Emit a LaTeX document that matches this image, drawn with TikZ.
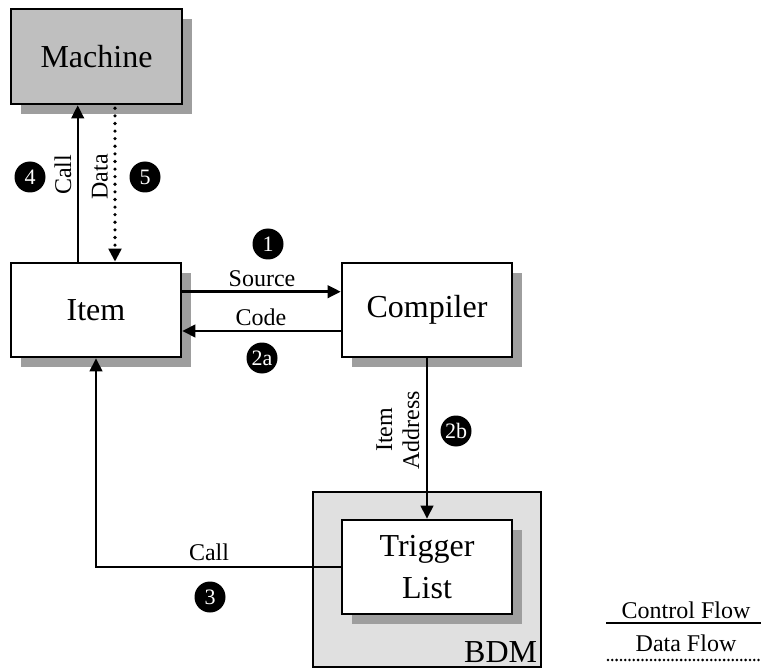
\documentclass[tikz,border=0pt]{standalone}
\usepackage{fontspec}
\setmainfont{Liberation Serif}
\usetikzlibrary{arrows.meta,shadows}
\begin{document}
\begin{tikzpicture}[x=1pt,y=-1pt,
  every node/.style={inner sep=0pt},
  box/.style={draw=black, line width=2.6pt, fill=white,
    minimum width=170pt, minimum height=94pt, align=center,
    font=\fontsize{32}{34}\selectfont,
    general shadow={fill=black!38, shadow xshift=10pt, shadow yshift=-10pt}},
  ctl/.style={line width=2.4pt, -{Triangle[length=13pt,width=12.5pt]}},
  dat/.style={line width=3.6pt, line cap=round, dash pattern=on 0pt off 7.6pt,
    -{Triangle[length=13pt,width=12.5pt,line cap=butt]}},
  lbl/.style={font=\fontsize{24}{25}\selectfont},
  num/.style={circle, fill=black, text=white, minimum size=31pt,
    font=\fontsize{22}{22}\selectfont}]
\useasboundingbox (0,0) rectangle (761,671);

% BDM region
\node[draw=black, line width=2.6pt, fill=black!12, minimum width=228pt,
  minimum height=175pt] (bdm) at (427,579.5) {};
\node[font=\fontsize{32}{34}\selectfont, anchor=base east] (bdmlabel)
  at ([xshift=-5pt,yshift=6pt]bdm.south east) {BDM};

% Main boxes
\node[box, fill=black!25, minimum width=171pt, minimum height=95pt] (machine) at (96.5,56.5) {Machine};
\node[box] (item) at (96,310) {Item};
\node[box] (compiler) at (427,310) {Compiler};
\node[box, font=\fontsize{32}{42}\selectfont] (trigger) at (427,567) {Trigger\\List};

% Item <-> Machine
\draw[ctl] ([xshift=-18.3pt]item.north) -- ([xshift=-18.8pt]machine.south);
\draw[dat, shorten <=3pt] ([xshift=18.5pt]machine.south) -- ([xshift=19pt]item.north);
\node[lbl, rotate=90] (calllbl) at (63,175) {Call};
\node[lbl, rotate=90] (datalbl) at (100,177) {Data};
\node[num] (n4) at (30,177) {4};
\node[num] (n5) at (145,177) {5};

% Item <-> Compiler
\draw[ctl] ([yshift=18.3pt]item.east) -- ([yshift=18.3pt]compiler.west);
\draw[ctl] ([yshift=-21pt]compiler.west) -- ([yshift=-21pt]item.east);
\node[lbl] (srclbl) at (262,279) {Source};
\node[lbl] (codelbl) at (261,317) {Code};
\node[num] (n1) at (268,244) {1};
\node[num] (n2a) at (262,358) {2a};

% Compiler -> Trigger List
\draw[ctl] (compiler.south) -- (trigger.north);
\node[lbl, rotate=90, align=center, font=\fontsize{24}{27}\selectfont] (addrlbl)
  at (398,430) {Item\\Address};
\node[num] (n2b) at (456,431) {2b};

% Trigger List -> Item
\draw[ctl] (trigger.west) -| (item.south);
\node[lbl] (call3lbl) at (209,552) {Call};
\node[num] (n3) at (210,597) {3};

% Legend
\node[lbl] (ctllegend) at (686,610) {Control Flow};
\coordinate (ctlA) at (606,623);
\coordinate (ctlB) at (761,623);
\draw[line width=2.4pt] (ctlA) -- (ctlB);
\node[lbl] (datlegend) at (686,643) {Data Flow};
\coordinate (datA) at (608,660);
\coordinate (datB) at (761,660);
\draw[line width=2.8pt, line cap=round, dash pattern=on 0pt off 4.3pt] (datA) -- (datB);
\end{tikzpicture}
\end{document}
